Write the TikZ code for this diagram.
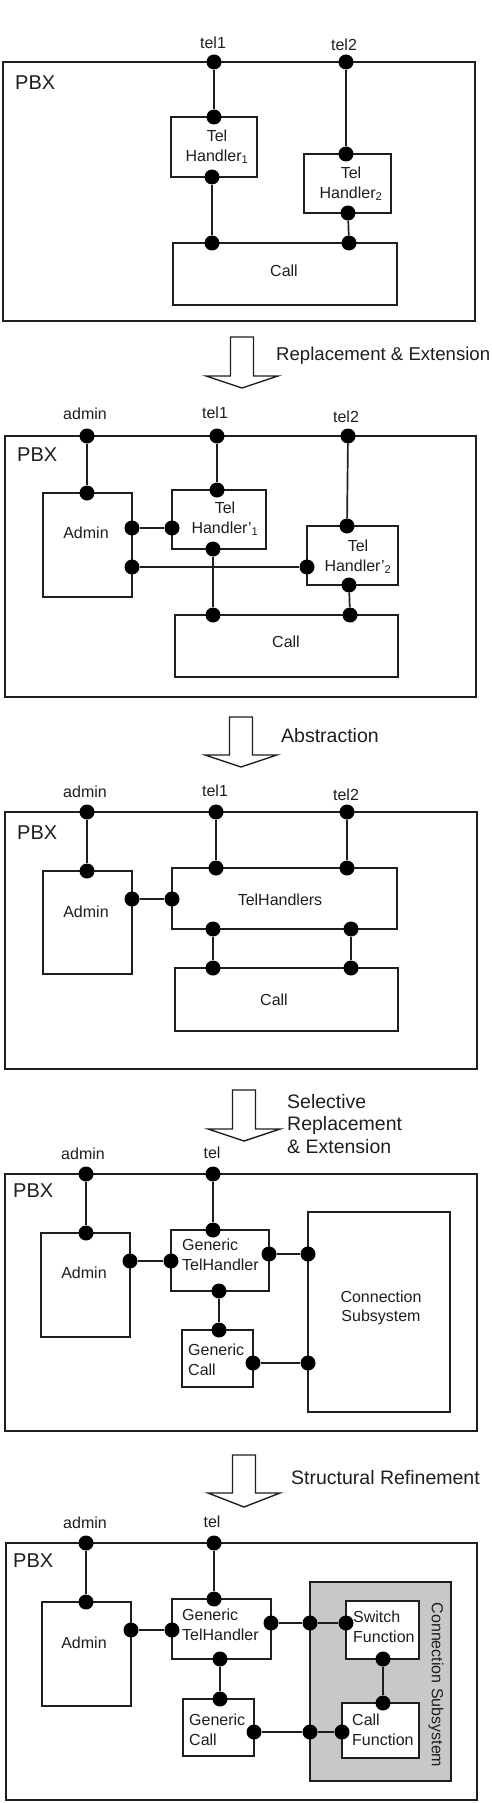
\documentclass[tikz,border=0pt]{standalone}
\usepackage{fontspec}
\setmainfont{Liberation Sans}
\usetikzlibrary{fit}
\definecolor{ink}{RGB}{30,30,30}
\definecolor{shade}{RGB}{200,200,200}
\pgfdeclarelayer{back}
\pgfdeclarelayer{wires}
\pgfsetlayers{back,wires,main}
\tikzset{
  box/.style={draw=ink, line width=1.7pt, rectangle, inner sep=0pt},
  port/.style={circle, fill=black, inner sep=0pt, minimum size=15pt},
  wire/.style={draw=ink, line width=1.7pt},
  lbl/.style={text=ink, font=\fontsize{16}{19.5}\selectfont, inner sep=0pt},
  pbxlbl/.style={text=ink, font=\fontsize{20}{24}\selectfont, inner sep=0pt, anchor=west},
  trans/.style={text=ink, font=\fontsize{19.5}{22.5}\selectfont, inner sep=0pt, anchor=west, align=left},
  blockarrow/.style={draw=ink, line width=1.4pt, fill=white, line join=miter},
}
\newcommand\downblock[4]{% center x, top y, base y, tip y
  \draw[blockarrow] ({#1-11.5},#2) -- ({#1+11.5},#2) -- ({#1+11.5},#3) -- ({#1+36},#3)
    -- (#1,#4) -- ({#1-36},#3) -- ({#1-11.5},#3) -- cycle;}
\begin{document}
\begin{tikzpicture}[x=1pt,y=-1pt]
\useasboundingbox (0,0) rectangle (492,1803);

% ================= Panel 1 =================
\node[box, fit={(3,62)(475,321)}] (pbxA) {};
\node[pbxlbl] (pbxAl) at (15,83) {PBX};
\node[lbl] (tel1Al) at (213,43) {tel1};
\node[lbl] (tel2Al) at (344,45) {tel2};
\node[box, fit={(171,117)(257,177)}] (thA1) {};
\node[lbl, align=center] (thA1l) at (217,147) {Tel\\Handler\textsubscript{1}};
\node[box, fit={(304,154)(391,213)}] (thA2) {};
\node[lbl, align=center] (thA2l) at (351,184) {Tel\\Handler\textsubscript{2}};
\node[box, fit={(173,243)(397,305)}] (callA) {};
\node[lbl] (callAl) at (284,271) {Call};
\node[port] (pA1) at (214,62) {};
\node[port] (pA2) at (346,62) {};
\node[port] (pA3) at (214,117) {};
\node[port] (pA4) at (212,177) {};
\node[port] (pA5) at (346,154) {};
\node[port] (pA6) at (348,213) {};
\node[port] (pA7) at (212,243) {};
\node[port] (pA8) at (349,243) {};
\begin{pgfonlayer}{wires}
\draw[wire] (pA1) -- (pA3);
\draw[wire] (pA2) -- (pA5);
\draw[wire] (pA4) -- (pA7);
\draw[wire] (pA6) -- (pA8);
\end{pgfonlayer}

% ================= Transition 1 =================
\downblock{242}{337}{376}{388}
\node[trans, font=\fontsize{18.6}{22.5}\selectfont] (tr1) at (276,356) {Replacement \& Extension};

% ================= Panel 2 =================
\node[box, fit={(5,436)(476,697)}] (pbxB) {};
\node[pbxlbl] (pbxBl) at (17,455) {PBX};
\node[lbl] (admBl) at (85,414) {admin};
\node[lbl] (tel1Bl) at (215,413) {tel1};
\node[lbl] (tel2Bl) at (346,417) {tel2};
\node[box, fit={(43,493)(132,597)}] (admB) {};
\node[lbl] (admBt) at (86,533) {Admin};
\node[box, fit={(172,490)(266,549)}] (thB1) {};
\node[lbl, align=center] (thB1l) at (225,519) {Tel\\Handler'\textsubscript{1}};
\node[box, fit={(307,526)(398,585)}] (thB2) {};
\node[lbl, align=center] (thB2l) at (358,557) {Tel\\Handler'\textsubscript{2}};
\node[box, fit={(175,615)(398,677)}] (callB) {};
\node[lbl] (callBl) at (286,642) {Call};
\node[port] (pB1) at (87,436) {};
\node[port] (pB2) at (217,436) {};
\node[port] (pB3) at (348,436) {};
\node[port] (pB4) at (87,493) {};
\node[port] (pB5) at (132,528) {};
\node[port] (pB6) at (132,567) {};
\node[port] (pB7) at (217,490) {};
\node[port] (pB8) at (172,528) {};
\node[port] (pB9) at (213,549) {};
\node[port] (pB10) at (347,526) {};
\node[port] (pB11) at (307,567) {};
\node[port] (pB12) at (349,585) {};
\node[port] (pB13) at (213,615) {};
\node[port] (pB14) at (350,615) {};
\begin{pgfonlayer}{wires}
\draw[wire] (pB1) -- (pB4);
\draw[wire] (pB2) -- (pB7);
\draw[wire] (pB3) -- (pB10);
\draw[wire] (pB5) -- (pB8);
\draw[wire] (pB6) -- (pB11);
\draw[wire] (pB9) -- (pB13);
\draw[wire] (pB12) -- (pB14);
\end{pgfonlayer}

% ================= Transition 2 =================
\downblock{241}{717}{755}{767}
\node[trans] (tr2) at (281,736) {Abstraction};

% ================= Panel 3 =================
\node[box, fit={(5,812)(477,1069)}] (pbxC) {};
\node[pbxlbl] (pbxCl) at (17,833) {PBX};
\node[lbl] (admCl) at (85,792) {admin};
\node[lbl] (tel1Cl) at (215,791) {tel1};
\node[lbl] (tel2Cl) at (346,795) {tel2};
\node[box, fit={(43,871)(132,974)}] (admC) {};
\node[lbl] (admCt) at (86,912) {Admin};
\node[box, fit={(172,868)(397,929)}] (thC) {};
\node[lbl] (thCl) at (280,900) {TelHandlers};
\node[box, fit={(175,968)(398,1031)}] (callC) {};
\node[lbl] (callCl) at (274,1000) {Call};
\node[port] (pC1) at (87,812) {};
\node[port] (pC2) at (216,812) {};
\node[port] (pC3) at (347,812) {};
\node[port] (pC4) at (87,871) {};
\node[port] (pC5) at (132,899) {};
\node[port] (pC6) at (216,868) {};
\node[port] (pC7) at (347,868) {};
\node[port] (pC8) at (172,899) {};
\node[port] (pC9) at (213,929) {};
\node[port] (pC10) at (351,929) {};
\node[port] (pC11) at (213,968) {};
\node[port] (pC12) at (351,968) {};
\begin{pgfonlayer}{wires}
\draw[wire] (pC1) -- (pC4);
\draw[wire] (pC2) -- (pC6);
\draw[wire] (pC3) -- (pC7);
\draw[wire] (pC5) -- (pC8);
\draw[wire] (pC9) -- (pC11);
\draw[wire] (pC10) -- (pC12);
\end{pgfonlayer}

% ================= Transition 3 =================
\downblock{244}{1090}{1129}{1141}
\node[trans] (tr3) at (287,1124) {Selective\\Replacement\\\& Extension};

% ================= Panel 4 =================
\node[box, fit={(5,1174)(477,1431)}] (pbxD) {};
\node[pbxlbl] (pbxDl) at (13,1191) {PBX};
\node[lbl] (admDl) at (83,1154) {admin};
\node[lbl] (telDl) at (212,1153) {tel};
\node[box, fit={(41,1233)(130,1337)}] (admD) {};
\node[lbl] (admDt) at (84,1273) {Admin};
\node[box, fit={(171,1230)(269,1291)}] (gthD) {};
\node[lbl, anchor=west, align=left] (gthDl) at (182,1255) {Generic\\TelHandler};
\node[box, fit={(182,1330)(253,1387)}] (gcD) {};
\node[lbl, anchor=west, align=left] (gcDl) at (188,1360) {Generic\\Call};
\node[box, fit={(308,1212)(450,1412)}] (csD) {};
\node[lbl, align=center] (csDl) at (381,1308) {Connection\\Subsystem};
\node[port] (pD1) at (86,1174) {};
\node[port] (pD2) at (213,1174) {};
\node[port] (pD3) at (86,1233) {};
\node[port] (pD4) at (130,1261) {};
\node[port] (pD5) at (213,1230) {};
\node[port] (pD6) at (171,1261) {};
\node[port] (pD7) at (269,1254) {};
\node[port] (pD8) at (219,1291) {};
\node[port] (pD9) at (219,1330) {};
\node[port] (pD10) at (253,1363) {};
\node[port] (pD11) at (308,1254) {};
\node[port] (pD12) at (308,1363) {};
\begin{pgfonlayer}{wires}
\draw[wire] (pD1) -- (pD3);
\draw[wire] (pD2) -- (pD5);
\draw[wire] (pD4) -- (pD6);
\draw[wire] (pD7) -- (pD11);
\draw[wire] (pD8) -- (pD9);
\draw[wire] (pD10) -- (pD12);
\end{pgfonlayer}

% ================= Transition 4 =================
\downblock{244}{1455}{1493}{1507}
\node[trans] (tr4) at (291,1478) {Structural Refinement};

% ================= Panel 5 =================
\node[box, fit={(6,1543)(477,1800)}] (pbxE) {};
\node[pbxlbl] (pbxEl) at (13,1561) {PBX};
\node[lbl] (admEl) at (85,1523) {admin};
\node[lbl] (telEl) at (212,1522) {tel};
\node[box, fit={(42,1602)(131,1706)}] (admE) {};
\node[lbl] (admEt) at (84,1643) {Admin};
\node[box, fit={(172,1599)(271,1659)}] (gthE) {};
\node[lbl, anchor=west, align=left] (gthEl) at (182,1625) {Generic\\TelHandler};
\node[box, fit={(183,1699)(254,1756)}] (gcE) {};
\node[lbl, anchor=west, align=left] (gcEl) at (189,1730) {Generic\\Call};
\begin{pgfonlayer}{back}
\node[box, fill=shade, fit={(310,1582)(451,1781)}] (csE) {};
\end{pgfonlayer}
\node[lbl, rotate=-90] (csEl) at (436,1685) {Connection Subsystem};
\node[box, fill=white, fit={(346,1601)(419,1659)}] (sfE) {};
\node[lbl, anchor=west, align=left] (sfEl) at (353,1627) {Switch\\Function};
\node[box, fill=white, fit={(342,1703)(419,1758)}] (cfE) {};
\node[lbl, anchor=west, align=left] (cfEl) at (352,1730) {Call\\Function};
\node[port] (pE1) at (86,1543) {};
\node[port] (pE2) at (214,1543) {};
\node[port] (pE3) at (86,1602) {};
\node[port] (pE4) at (131,1630) {};
\node[port] (pE5) at (214,1599) {};
\node[port] (pE6) at (172,1630) {};
\node[port] (pE7) at (271,1623) {};
\node[port] (pE8) at (220,1659) {};
\node[port] (pE9) at (220,1699) {};
\node[port] (pE10) at (254,1732) {};
\node[port] (pE11) at (310,1623) {};
\node[port] (pE12) at (310,1732) {};
\node[port] (pE13) at (346,1623) {};
\node[port] (pE14) at (383,1659) {};
\node[port] (pE15) at (383,1703) {};
\node[port] (pE16) at (342,1732) {};
\begin{pgfonlayer}{wires}
\draw[wire] (pE1) -- (pE3);
\draw[wire] (pE2) -- (pE5);
\draw[wire] (pE4) -- (pE6);
\draw[wire] (pE7) -- (pE11) -- (pE13);
\draw[wire] (pE8) -- (pE9);
\draw[wire] (pE10) -- (pE12) -- (pE16);
\draw[wire] (pE14) -- (pE15);
\end{pgfonlayer}
\end{tikzpicture}
\end{document}
